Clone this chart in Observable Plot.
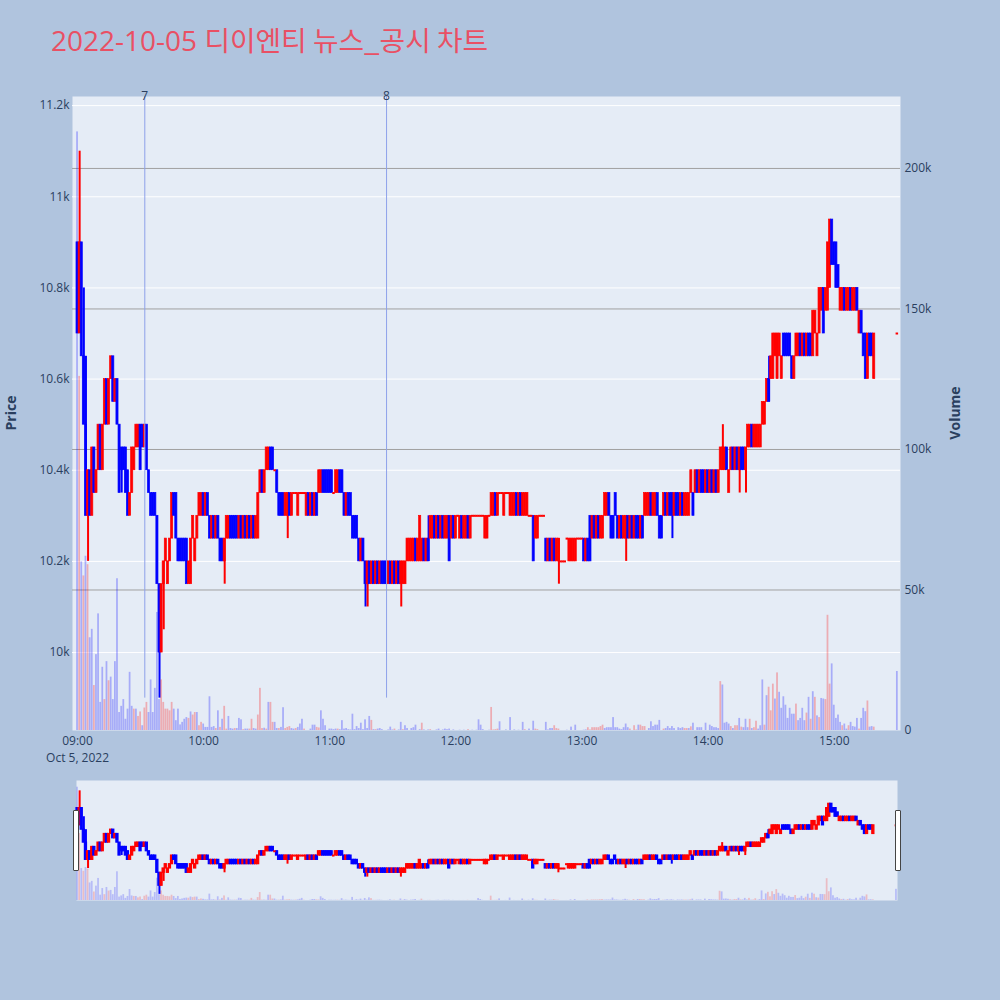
<!DOCTYPE html>
<html>
<head>
<meta charset="utf-8">
<script src="https://cdn.jsdelivr.net/npm/d3@7"></script>
<script src="https://cdn.jsdelivr.net/npm/@observablehq/plot@0.6"></script>
<style>
  html, body { margin: 0; padding: 0; background: #b0c4de; }
  #wrap { position: relative; width: 1000px; height: 1000px; background: #b0c4de; overflow: hidden; font-family: "Open Sans", sans-serif; }
  #wrap svg { position: absolute; left: 0; }
  .title { position: absolute; left: 51px; top: 25px; line-height: 28px; white-space: nowrap; color: rgb(233, 80, 100); font-size: 28px; font-family: "Open Sans", "Noto Sans CJK KR", sans-serif; }
  .title .kor { font-family: "Noto Sans CJK KR", sans-serif; font-size: 27.8px; }
  .axtitle { position: absolute; font-family: "Open Sans", sans-serif; font-weight: bold; font-size: 14px; color: #2a3f5f; transform: translate(-50%, -50%) rotate(-90deg); white-space: nowrap; }
  .handle { position: absolute; width: 4px; height: 59px; background: #ffffff; border: 1px solid #444; border-radius: 1px; }
</style>
</head>
<body>
<div id="wrap">
  <div class="title"><span class="lat">2022-10-05 </span><span class="kor">디이엔티 뉴스_공시 차트</span></div>
  <div class="axtitle" style="left:10px; top:413px;">Price</div>
  <div class="axtitle" style="left:954px; top:413px;">Volume</div>
</div>
<script>
// ---------------- data ----------------
const priceTicks = [10000, 10200, 10400, 10600, 10800, 11000, 11200];
const priceTickLabels = ["10k", "10.2k", "10.4k", "10.6k", "10.8k", "11k", "11.2k"];
const volumeTicks = [0, 50000, 100000, 150000, 200000];
const volumeTickLabels = ["0", "50k", "100k", "150k", "200k"];
const hourTicks = [0, 60, 120, 180, 240, 300, 360];            // minutes after 09:00
const hourLabels = ["09:00", "10:00", "11:00", "12:00", "13:00", "14:00", "15:00"];
const dateLabel = "Oct 5, 2022";
const newsMinutes = [32, 147];                                   // 09:32, 11:27
const newsLabels = ["7", "8"];

const priceDomain = [9829, 11220];
const volumeDomain = [0, 225600];
const minuteDomain = [-2.4, 391.5];

// one-minute candles from 09:00 (index = minutes after 09:00)
const opens = [
10900,10700,10900,10650,10500,10300,10400,10300,10450,10350,
10400,10500,10400,10500,10600,10500,10600,10650,10550,10600,
10500,10450,10450,10450,10400,10300,10350,10400,10450,10450,
10500,10500,10450,10500,10400,10350,10350,10350,10300,10150,
10000,10150,10200,10150,10200,10250,10350,10350,10250,10250,
10250,10250,10250,10150,10150,10250,10200,10250,10300,10300,
10350,10300,10350,10300,10250,10300,10250,10300,10250,10250,
10200,10250,10250,10300,10300,10300,10300,10250,10300,10250,
10300,10250,10300,10250,10300,10250,10250,10350,10400,10350,
10400,10400,10450,10450,10400,10400,10350,10350,10350,10300,
10300,10350,10300,10350,10350,10300,10350,10350,10350,10300,
10350,10300,10350,10300,10350,10350,10350,10400,10400,10400,
10400,10400,10350,10350,10350,10400,10400,10350,10300,10350,
10350,10300,10300,10300,10250,10200,10250,10200,10150,10200,
10150,10200,10150,10200,10150,10200,10200,10200,10150,10200,
10150,10200,10150,10200,10150,10150,10150,10200,10200,10200,
10200,10250,10200,10200,10200,10250,10200,10250,10250,10250,
10300,10250,10300,10250,10300,10250,10250,10300,10250,10300,
10250,10300,10250,10300,10250,10250,10300,10250,10300,10300,
10300,10300,10300,10300,10250,10250,10300,10300,10300,10350,
10300,10350,10350,10300,10350,10350,10300,10300,10300,10350,
10300,10350,10300,10300,10300,10300,10300,10300,10250,10250,
10300,10300,10300,10250,10200,10250,10200,10250,10200,10200,
10200,10200,10200,10250,10200,10200,10200,10200,10250,10250,
10250,10250,10200,10250,10300,10250,10300,10250,10300,10250,
10250,10300,10300,10350,10300,10300,10350,10300,10250,10300,
10250,10250,10300,10250,10300,10250,10300,10300,10250,10300,
10300,10300,10300,10350,10300,10300,10350,10300,10300,10300,
10350,10300,10350,10350,10300,10350,10350,10300,10350,10300,
10300,10300,10350,10350,10350,10400,10350,10400,10400,10350,
10400,10350,10400,10350,10400,10350,10400,10400,10400,10450,
10350,10400,10450,10400,10450,10400,10450,10450,10400,10450,
10450,10500,10450,10450,10450,10450,10500,10500,10550,10600,
10600,10600,10650,10600,10650,10600,10700,10700,10700,10700,
10650,10600,10650,10650,10700,10650,10700,10650,10700,10700,
10650,10700,10650,10700,10750,10800,10750,10750,10800,10950,
10900,10900,10850,10750,10750,10800,10750,10750,10800,10750,
10750,10800,10700,10750,10700,10700,10600,10700,10700,10600
];
const closes = [
10700,10900,10650,10500,10300,10400,10300,10450,10350,10400,
10500,10400,10500,10600,10500,10600,10650,10550,10600,10500,
10350,10400,10400,10350,10300,10350,10450,10450,10500,10500,
10400,10450,10500,10400,10350,10300,10300,10300,10150,10000,
10150,10200,10250,10200,10250,10350,10300,10250,10200,10200,
10200,10200,10150,10200,10250,10300,10250,10300,10350,10350,
10300,10350,10300,10250,10300,10250,10300,10250,10200,10200,
10250,10300,10300,10250,10250,10250,10250,10300,10250,10300,
10250,10300,10250,10300,10250,10300,10350,10400,10350,10400,
10450,10450,10400,10400,10400,10350,10300,10300,10300,10350,
10350,10300,10350,10350,10350,10350,10350,10350,10350,10350,
10300,10350,10300,10350,10300,10400,10400,10350,10350,10350,
10350,10350,10350,10400,10400,10350,10350,10300,10350,10300,
10300,10250,10250,10250,10200,10250,10200,10150,10200,10150,
10200,10150,10200,10150,10200,10150,10150,10150,10200,10150,
10200,10150,10200,10150,10200,10200,10200,10250,10250,10250,
10250,10200,10250,10300,10250,10200,10250,10200,10300,10300,
10250,10300,10250,10300,10250,10300,10300,10200,10300,10250,
10300,10300,10300,10250,10300,10300,10250,10300,10300,10300,
10300,10300,10300,10300,10300,10300,10300,10350,10350,10300,
10350,10350,10350,10350,10350,10350,10350,10350,10350,10300,
10350,10300,10350,10350,10350,10300,10300,10200,10300,10300,
10300,10300,10300,10200,10250,10200,10250,10200,10250,10250,
10200,10200,10200,10250,10250,10250,10250,10250,10250,10250,
10250,10200,10250,10200,10200,10300,10250,10300,10250,10300,
10300,10350,10350,10300,10250,10250,10300,10250,10300,10250,
10300,10300,10250,10300,10250,10300,10250,10250,10300,10250,
10350,10350,10350,10300,10350,10350,10300,10250,10250,10350,
10300,10350,10300,10300,10350,10300,10300,10350,10300,10350,
10350,10350,10400,10300,10400,10350,10400,10350,10350,10400,
10350,10400,10350,10400,10350,10400,10450,10450,10450,10400,
10400,10450,10400,10450,10400,10450,10400,10400,10450,10500,
10500,10450,10500,10500,10500,10500,10550,10550,10600,10550,
10650,10700,10700,10700,10700,10650,10650,10650,10650,10650,
10600,10650,10700,10700,10650,10700,10650,10700,10650,10650,
10750,10750,10700,10800,10800,10700,10800,10900,10950,10850,
10850,10800,10800,10800,10800,10750,10800,10800,10750,10800,
10800,10750,10750,10700,10650,10600,10700,10650,10650,10700
];
// minutes whose wick reaches past the body, and the price it reaches
const wickMinutes = [1, 3, 4, 5, 21, 39, 41, 70, 100, 137, 138, 154, 167, 229, 261, 283, 307, 315, 318, 329];
const wickPrices  = [11100, 10800, 10650, 10200, 10350, 9900, 10050, 10150, 10250, 10100, 10100, 10100, 10300, 10150, 10200, 10250, 10500, 10350, 10350, 10650];
// volume per minute, thousands of shares
const volumesK = [
213,126,60,55,62,59,33,36,16,27,
41.5,10,22.5,11,24.5,17.7,19,11,24.5,54,
6.4,8.6,11,4,7.6,20.7,8.6,7.6,7.6,5,
6.6,1.7,8,10,6.4,18,6.4,15,42,11,
18,10,7.6,7.6,7,10,7.6,3.5,7.6,2,
2.9,4,4.6,4.3,6.6,5.5,6.4,6.4,1.7,2.9,
2.3,1.1,1.1,12,1.1,1.4,0.7,7,1.1,4,
8.6,0.5,5,0.7,0.5,0.7,0.7,4.3,3.8,0.3,
0.5,0.5,0.5,4,0.7,0.5,5.5,15,0.7,0.8,
0.5,10,10,2.9,2.9,0.7,0.7,1.1,8.1,0.7,
1.1,1.4,0.7,0.5,0.7,1.1,2.3,4,0.5,0,
0,0.5,1.9,1.9,1.1,0.9,7,4,1.7,0,
0.5,0.5,0.3,0.5,0.5,0.3,3.5,0.5,0.7,0.3,
0.2,5.8,0.3,1.4,0.7,2.6,0.3,3.8,0.7,5,
3.6,0.3,0.3,0.5,0.7,0.3,0,0,0.2,1.2,
0.2,0.5,0,0.2,2.9,0.3,1.7,0.7,0,0.7,
1,1.9,0,0.3,2.6,0.2,0,0.2,0.3,0,
0,0.2,0.5,0,0.2,0.5,0.3,0.5,0,0.2,
0,0,0.1,0,0.1,0,0.3,0,0.1,0,
0.1,3.8,1.9,0.3,0,0,0.1,8.2,0.2,0.3,
0.5,3.1,0,0,0.2,0,4.6,0,0.2,0,
0.1,0,2.9,0.3,0,0.5,0,3.3,0.5,0.3,
0,0,0,2.9,0.2,0.7,0.7,1.7,0.7,0.5,
0,0,0,0.1,0,1.2,0,1.9,0,0,
0,0.1,0.2,1,0.2,1,1,1,1,1.4,
1.9,0.7,1,1,1,4.6,1,1,0.5,0.3,
1,2.3,1,0.5,0,1.7,0.2,1.9,1.9,1.4,
1.4,0,0.7,3.1,1.4,1.9,1.9,3.6,0,0.5,
0.7,1.4,0.7,1.4,0.7,0,1,0.7,1,0.7,
0.7,0.7,1.3,2.6,0,1,1,1,0,2.6,
0,1.9,1.4,1,1,0.7,17.4,16.2,2.6,2.9,
2.3,1.4,0.7,1.7,1.7,4.3,1.2,1,4,1,
4,0.7,1,3.3,0.5,1.7,18,1.9,12.4,15.4,
7,16.5,11.2,20.5,13.6,7.9,12,9,4.3,7.9,
5.8,5.8,9.4,3.5,4.3,7.9,3.5,6.2,11.8,4,
13.8,11.8,5.2,4.6,11.4,11.2,11,41,16.5,23.7,
9,4.3,5.5,2.9,1.7,2.3,0.5,1.7,2.9,1.4,
1.2,4.3,0.5,4.3,7.9,6.7,10.5,1.2,1.4,1.2
];
// colour of each volume bar, ten minutes per entry: r = red (rising), b = blue (falling)
const volumeColorCodes = [
"brbrbrbbrb","bbbrbrbbbb","bbbbbbbrbr","rbrrbbbbbb","rrrrrrbbbb",
"bbbrbrrbrr","bbbbbbrbrb","rrbbbrbbbr","bbrrbbrrrb","rbrrbbrbbr",
"rrbbrbbbrb","bbbbrrbbbb","bbbbrbbbbb","bbbbbbbbbb","rbrbbbbbbb",
"brbbbrbbbb","bbbbrbbbrb","bbbbbbbbbb","bbbbbbrbbb","bbbbbbbrrr",
"rbbbbbbbbb","bbbrbbbbrr","bbbbbbbrrr","bbbbbbbbbb","bbbrrrrrrr",
"rbbbbbbbbb","bbbrbrrbrr","rbbbbbbbbr","bbbbbbbbbr","rbrbbbbbbb",
"bbbbbbrbbb","brbrrbrbbb","rbrrbbbrbr","rrbrbbbbbb","bbrbbbbrbr",
"brbrbbrrrb","bbbbrbbrbb","bbrbbbrbbr"
];
// closing auction print at 15:30
const auctionMinute = 390;
const auctionPrice = 10700;
const auctionVolumeK = 21;
const auctionVolumeColorCode = "b";

// ---------------- table ----------------
const UP = "#ff0000", DOWN = "#0000ff";
const volCodes = volumeColorCodes.join("").split("");
const rows = closes.map((c, i) => ({m: i, open: opens[i], close: c, vol: volumesK[i] * 1000, vc: volCodes[i]}));
rows.push({m: auctionMinute, open: auctionPrice, close: auctionPrice, vol: auctionVolumeK * 1000, vc: auctionVolumeColorCode});
for (const d of rows) {
  d.col = d.close >= d.open ? UP : DOWN;
  d.volCol = d.vc === "r" ? UP : DOWN;
  d.high = Math.max(d.open, d.close);
  d.low = Math.min(d.open, d.close);
}
wickMinutes.forEach((m, k) => {
  const d = rows[m], p = wickPrices[k];
  if (p > d.high) d.high = p; else d.low = p;
  d.wick = true;
});
const bodies = rows.filter(d => d.open !== d.close);
const dojis = rows.filter(d => d.open === d.close);
const wicks = rows.filter(d => d.wick);
const dayLow = d3.min(rows, d => d.low);

// ---------------- plots ----------------
const wrap = document.getElementById("wrap");
const baseStyle = {background: "transparent", fontFamily: "'Open Sans', sans-serif", fontSize: "12px", color: "#2a3f5f", overflow: "visible"};
const main = {width: 1000, height: 770, marginLeft: 72, marginRight: 100, marginTop: 96, marginBottom: 40, style: baseStyle};
const slider = {width: 1000, height: 120, marginLeft: 76, marginRight: 103, marginTop: 0, marginBottom: 0, style: baseStyle};
const sliderX = [-0.5, 390.5];

function place(svg, top) { svg.style.position = "absolute"; svg.style.left = "0px"; svg.style.top = top + "px"; wrap.appendChild(svg); }

// layer 1: background, volume grid and right axis
place(Plot.plot({
  ...main,
  x: {domain: minuteDomain, axis: null},
  y: {domain: volumeDomain},
  marks: [
    Plot.frame({fill: "#e5ecf6", stroke: "none"}),
    Plot.ruleY(volumeTicks.slice(1), {stroke: "#a0a0a0", strokeWidth: 1}),
    Plot.axisY({anchor: "right", ticks: volumeTicks, tickFormat: d => volumeTickLabels[volumeTicks.indexOf(d)], tickSize: 0, tickPadding: 4, label: null, fill: "#2a3f5f"})
  ]
}), 0);

// layer 2: price grid, axes, candles, news markers
place(Plot.plot({
  ...main,
  x: {domain: minuteDomain},
  y: {domain: priceDomain},
  color: {type: "identity"},
  marks: [
    Plot.ruleY(priceTicks, {stroke: "white", strokeWidth: 1}),
    Plot.axisY({anchor: "left", ticks: priceTicks, tickFormat: d => priceTickLabels[priceTicks.indexOf(d)], tickSize: 0, tickPadding: 3, label: null, fill: "#2a3f5f"}),
    Plot.axisX({ticks: hourTicks, tickFormat: d => hourLabels[hourTicks.indexOf(d)], tickSize: 0, tickPadding: 6, label: null, fill: "#2a3f5f"}),
    Plot.text([dateLabel], {x: [hourTicks[0]], text: d => d, frameAnchor: "bottom", dy: 28, lineAnchor: "middle", fill: "#2a3f5f"}),
    Plot.ruleX(wicks, {x: "m", y1: "low", y2: "high", stroke: "col", strokeWidth: 2}),
    Plot.rect(bodies, {x1: d => d.m - 0.5, x2: d => d.m + 0.5, y1: "open", y2: "close", fill: "col", stroke: "col", strokeWidth: 0.7}),
    Plot.ruleY(dojis, {y: "close", x1: d => d.m - 0.6, x2: d => d.m + 0.6, stroke: "col", strokeWidth: 2}),
    Plot.ruleX(newsMinutes, {x: d => d, y1: dayLow, y2: priceDomain[1], stroke: "#8ea2ea", strokeWidth: 1}),
    Plot.text(newsMinutes, {x: d => d, y: priceDomain[1], text: (d, i) => newsLabels[i], fill: "#2a3f5f", fontSize: 12})
  ]
}), 0);

// layer 3: volume bars
place(Plot.plot({
  ...main,
  x: {domain: minuteDomain, axis: null},
  y: {domain: volumeDomain, axis: null},
  color: {type: "identity"},
  marks: [
    Plot.rect(rows, {x1: d => d.m - 0.42, x2: d => d.m + 0.42, y1: d => 0, y2: "vol", fill: "volCol", fillOpacity: 0.27})
  ]
}), 0);

// range slider: volume layer then price layer
place(Plot.plot({
  ...slider,
  x: {domain: sliderX, axis: null},
  y: {domain: volumeDomain, axis: null},
  color: {type: "identity"},
  marks: [
    Plot.frame({fill: "#e5ecf6", stroke: "none"}),
    Plot.rect(rows, {x1: d => d.m - 0.42, x2: d => d.m + 0.42, y1: d => 0, y2: "vol", fill: "volCol", fillOpacity: 0.2})
  ]
}), 780);
place(Plot.plot({
  ...slider,
  x: {domain: sliderX, axis: null},
  y: {domain: priceDomain, axis: null},
  color: {type: "identity"},
  marks: [
    Plot.ruleX(wicks, {x: "m", y1: "low", y2: "high", stroke: "col", strokeWidth: 2}),
    Plot.rect(bodies, {x1: d => d.m - 0.5, x2: d => d.m + 0.5, y1: "open", y2: "close", fill: "col", stroke: "col", strokeWidth: 1.2}),
    Plot.ruleY(dojis, {y: "close", x1: d => d.m - 0.6, x2: d => d.m + 0.6, stroke: "col", strokeWidth: 2})
  ]
}), 780);

// range slider grips
for (const left of [73, 895]) {
  const h = document.createElement("div");
  h.className = "handle";
  h.style.left = left + "px";
  h.style.top = "810px";
  wrap.appendChild(h);
}
</script>
</body>
</html>
